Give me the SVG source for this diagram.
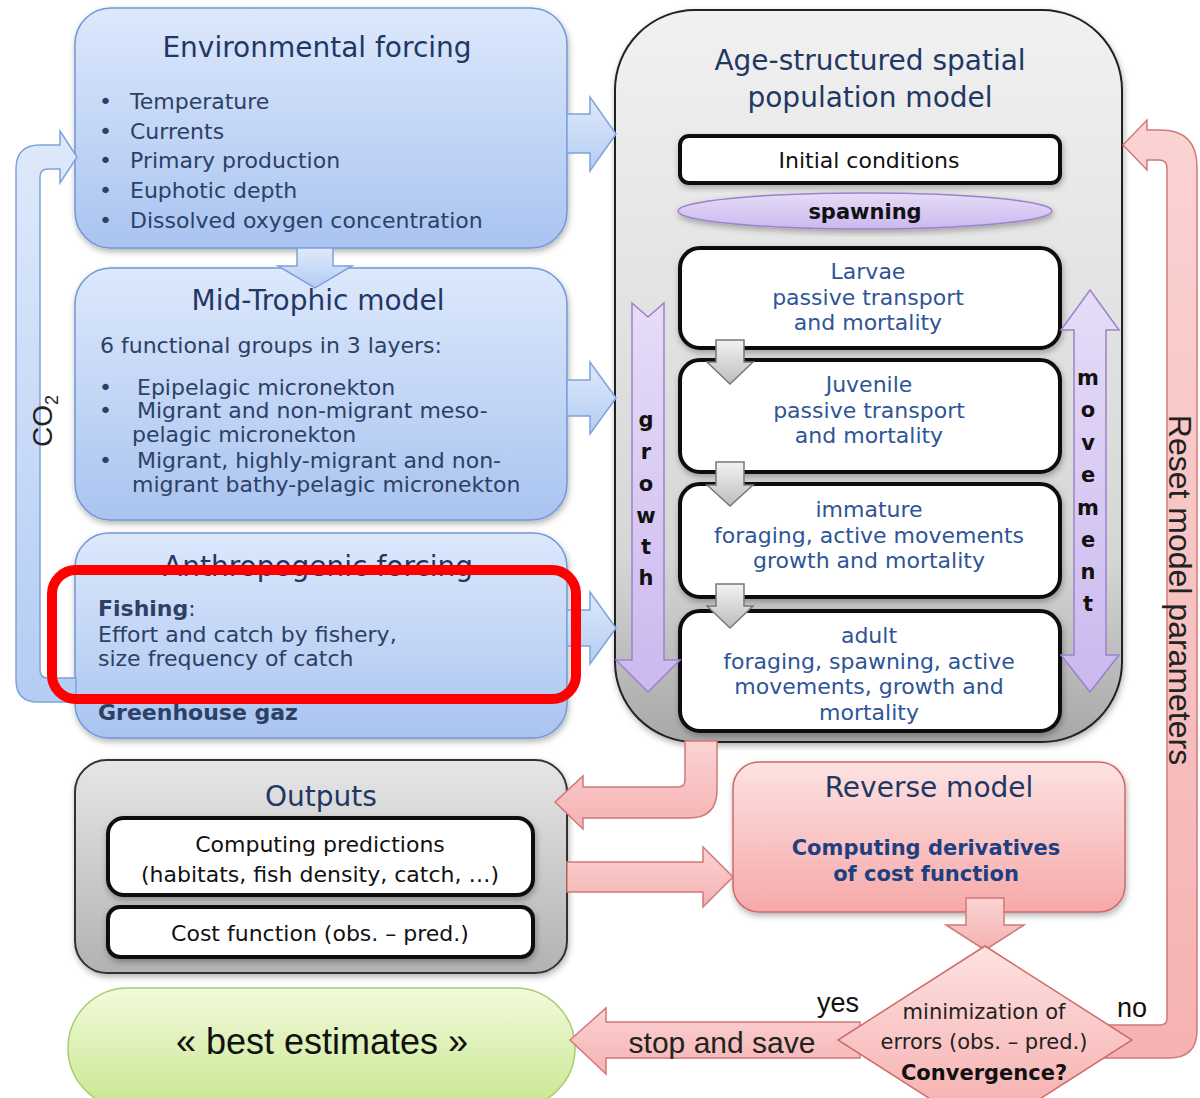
<svg xmlns="http://www.w3.org/2000/svg" width="1200" height="1098" viewBox="0 0 1200 1098">
<defs>
<linearGradient id="gBlue" x1="0" y1="0" x2="0" y2="1"><stop offset="0" stop-color="#dde8fc"/><stop offset="1" stop-color="#a9c4f0"/></linearGradient>
<linearGradient id="gBlueA" x1="0" y1="0" x2="0" y2="1"><stop offset="0" stop-color="#dfe9fb"/><stop offset="1" stop-color="#b4cdf3"/></linearGradient>
<linearGradient id="gGray" x1="0" y1="0" x2="0" y2="1"><stop offset="0" stop-color="#f1f1f1"/><stop offset="0.75" stop-color="#d6d6d6"/><stop offset="1" stop-color="#a8a8a8"/></linearGradient>
<linearGradient id="gGray2" x1="0" y1="0" x2="0" y2="1"><stop offset="0" stop-color="#e6e6e6"/><stop offset="1" stop-color="#b2b2b2"/></linearGradient>
<linearGradient id="gGrayArr" x1="0" y1="0" x2="0" y2="1"><stop offset="0" stop-color="#f2f2f2"/><stop offset="1" stop-color="#bdbdbd"/></linearGradient>
<linearGradient id="gPink" x1="0" y1="0" x2="0" y2="1"><stop offset="0" stop-color="#fde2e2"/><stop offset="1" stop-color="#f6a9a9"/></linearGradient>
<linearGradient id="gPinkArr" x1="0" y1="0" x2="0" y2="1"><stop offset="0" stop-color="#fbd3d3"/><stop offset="1" stop-color="#f5b2b2"/></linearGradient>
<linearGradient id="gLav" x1="0" y1="0" x2="0" y2="1"><stop offset="0" stop-color="#e6dcf7"/><stop offset="1" stop-color="#cbb8ef"/></linearGradient>
<linearGradient id="gGreen" x1="0" y1="0" x2="0" y2="1"><stop offset="0" stop-color="#f3fadc"/><stop offset="1" stop-color="#c7e78f"/></linearGradient>
<filter id="sh" x="-10%" y="-10%" width="120%" height="130%"><feDropShadow dx="1" dy="3" stdDeviation="3" flood-color="#000" flood-opacity="0.3"/></filter>
<style>
.c{font-family:"DejaVu Sans",sans-serif}
.ls{font-family:"Liberation Sans",Arial,sans-serif}
.ttl{font-size:28px;fill:#1f3864;text-anchor:middle}
.bd{font-size:22px;fill:#2d4066}
.st{font-size:22px;fill:#2e5597;text-anchor:middle}
.bk{font-size:22px;fill:#111;text-anchor:middle}
.lt{font-size:21px;font-weight:bold;fill:#111;text-anchor:middle}
.bbox{fill:url(#gBlue);stroke:#7098d4;stroke-width:1.5}
.wbox{fill:#fff;stroke:#111;stroke-width:4}
.barr{fill:url(#gBlueA);stroke:#7ea2da;stroke-width:1.5}
.parr{fill:url(#gPinkArr);stroke:#d27878;stroke-width:1.5}
.garr{fill:url(#gGrayArr);stroke:#777;stroke-width:1.5}
.larr{fill:url(#gLav);stroke:#9a82cc;stroke-width:1.5}
</style>
</defs>
<rect width="1200" height="1098" fill="#fff"/>

<g id="env">
<rect class="bbox" x="75" y="8" width="492" height="240" rx="36" filter="url(#sh)"/>
<text class="c ttl" x="317" y="57">Environmental forcing</text>
<g class="c bd">
<text x="99" y="109">•</text><text x="130" y="109">Temperature</text>
<text x="99" y="139">•</text><text x="130" y="139">Currents</text>
<text x="99" y="168">•</text><text x="130" y="168">Primary production</text>
<text x="99" y="198">•</text><text x="130" y="198">Euphotic depth</text>
<text x="99" y="228">•</text><text x="130" y="228">Dissolved oxygen concentration</text>
</g>
</g>

<g id="midtrophic">
<rect class="bbox" x="75" y="268" width="492" height="252" rx="36" filter="url(#sh)"/>
<text class="c ttl" x="318" y="310">Mid-Trophic model</text>
<g class="c bd">
<text x="100" y="353">6 functional groups in 3  layers:</text>
<text x="99" y="395">•</text><text x="137" y="395">Epipelagic micronekton</text>
<text x="99" y="418">•</text><text x="137" y="418">Migrant and non-migrant meso-</text>
<text x="132" y="442">pelagic micronekton</text>
<text x="99" y="468">•</text><text x="137" y="468">Migrant, highly-migrant and non-</text>
<text x="132" y="492">migrant bathy-pelagic micronekton</text>
</g>
</g>

<g id="anthropogenic">
<rect class="bbox" x="75" y="533" width="492" height="205" rx="34" filter="url(#sh)"/>
<text class="c ttl" x="318" y="576">Anthropogenic forcing</text>
<g class="c bd">
<text x="98" y="616" font-weight="bold">Fishing<tspan font-weight="normal">:</tspan></text>
<text x="98" y="642">Effort and catch by fishery,</text>
<text x="98" y="666">size frequency of catch</text>
<text x="98" y="720" font-weight="bold">Greenhouse gaz</text>
</g>
</g>

<g id="population">
<rect x="615" y="10" width="507" height="732" rx="80" fill="url(#gGray)" stroke="#222" stroke-width="2" filter="url(#sh)"/>
<text class="c ttl" x="870" y="70" fill="#1f497d">Age-structured spatial</text>
<text class="c ttl" x="870" y="107">population model</text>
</g>

<g id="initial-conditions">
<rect class="wbox" x="680" y="136" width="380" height="47" rx="9" filter="url(#sh)"/>
<text class="c bk" x="869" y="168">Initial conditions</text>
</g>

<g id="spawning">
<ellipse cx="865" cy="211" rx="187" ry="18" fill="url(#gLav)" stroke="#9a82cc" stroke-width="1.5" filter="url(#sh)"/>
<text class="c lt" x="865" y="219">spawning</text>
</g>

<g id="larvae">
<rect class="wbox" x="680" y="248" width="380" height="100" rx="20" filter="url(#sh)"/>
<g class="c st"><text x="868" y="279">Larvae</text><text x="868" y="305">passive transport</text><text x="868" y="330">and mortality</text></g>
</g>

<g id="juvenile">
<rect class="wbox" x="680" y="360" width="380" height="112" rx="20" filter="url(#sh)"/>
<g class="c st"><text x="869" y="392">Juvenile</text><text x="869" y="418">passive transport</text><text x="869" y="443">and mortality</text></g>
</g>

<g id="immature">
<rect class="wbox" x="680" y="484" width="380" height="113" rx="20" filter="url(#sh)"/>
<g class="c st"><text x="869" y="517">immature</text><text x="869" y="543">foraging, active movements</text><text x="869" y="568">growth and mortality</text></g>
</g>

<g id="adult">
<rect class="wbox" x="680" y="611" width="380" height="120" rx="20" filter="url(#sh)"/>
<g class="c st"><text x="869" y="643">adult</text><text x="869" y="669">foraging, spawning, active</text><text x="869" y="694">movements, growth and</text><text x="869" y="720">mortality</text></g>
</g>

<g id="outputs">
<rect x="75" y="760" width="492" height="213" rx="32" fill="url(#gGray2)" stroke="#333" stroke-width="2" filter="url(#sh)"/>
<text class="c ttl" x="321" y="806">Outputs</text>
</g>

<g id="predictions">
<rect class="wbox" x="108" y="818" width="425" height="77" rx="16" filter="url(#sh)"/>
<text class="c bk" x="320" y="852">Computing predictions</text>
<text class="c bk" x="320" y="882">(habitats, fish density, catch, …)</text>
</g>

<g id="cost-function">
<rect class="wbox" x="108" y="907" width="425" height="50" rx="12" filter="url(#sh)"/>
<text class="c bk" x="320" y="941">Cost function (obs. – pred.)</text>
</g>

<g id="reverse-model">
<rect x="733" y="762" width="392" height="150" rx="26" fill="url(#gPink)" stroke="#d06a6a" stroke-width="1.5" filter="url(#sh)"/>
<text class="c ttl" x="929" y="797">Reverse model</text>
<text class="c" x="926" y="855" font-size="21" font-weight="bold" fill="#1f3f80" text-anchor="middle">Computing derivatives</text>
<text class="c" x="926" y="881" font-size="21" font-weight="bold" fill="#1f3f80" text-anchor="middle">of cost function</text>
</g>

<g id="best-estimates">
<rect x="68" y="988" width="507" height="120" rx="60" fill="url(#gGreen)" stroke="#a9cc6f" stroke-width="1.5"/>
<text class="ls" x="322" y="1054" font-size="36" fill="#111" text-anchor="middle">« best estimates »</text>
</g>

<g id="connectors">
<path class="barr" d="M 77 157 L 60 131 L 60 145 L 40 145 Q 16 145 16 169 L 16 680 Q 16 702 38 702 L 76 702 L 76 678 L 48 678 Q 40 678 40 670 L 40 177 Q 40 169 48 169 L 60 169 L 60 183 Z"/>
<text class="ls" transform="translate(52,447) rotate(-90)" font-size="28" fill="#222">CO<tspan font-size="18" dy="6">2</tspan></text>
<path class="barr" d="M 567 114 L 590 114 L 590 97 L 616 134 L 590 171 L 590 153 L 567 153 Z"/>
<path class="barr" d="M 567 380 L 590 380 L 590 362 L 616 398 L 590 434 L 590 416 L 567 416 Z"/>
<path class="barr" d="M 567 610 L 590 610 L 590 592 L 616 628 L 590 664 L 590 646 L 567 646 Z"/>
<path class="barr" d="M 297 248 L 333 248 L 333 266 L 352 266 L 315 288 L 278 266 L 297 266 Z"/>
<path class="garr" d="M 716 340 L 744 340 L 744 362 L 753 362 L 730 384 L 707 362 L 716 362 Z"/>
<path class="garr" d="M 716 462 L 744 462 L 744 485 L 753 485 L 730 506 L 707 485 L 716 485 Z"/>
<path class="garr" d="M 716 584 L 744 584 L 744 606 L 753 606 L 730 628 L 707 606 L 716 606 Z"/>
<path class="larr" d="M 632 303 L 648 317 L 664 303 L 664 660 L 680 660 L 648 692 L 616 660 L 632 660 Z"/>
<g class="c lt"><text x="646" y="427">g</text><text x="646" y="459">r</text><text x="646" y="491">o</text><text x="646" y="523">w</text><text x="646" y="554">t</text><text x="646" y="585">h</text></g>
<path class="larr" d="M 1090 290 L 1119 330 L 1106 330 L 1106 655 L 1119 655 L 1090 692 L 1061 655 L 1074 655 L 1074 330 L 1061 330 Z"/>
<g class="c lt"><text x="1088" y="385">m</text><text x="1088" y="417">o</text><text x="1088" y="450">v</text><text x="1088" y="482">e</text><text x="1088" y="515">m</text><text x="1088" y="547">e</text><text x="1088" y="579">n</text><text x="1088" y="611">t</text></g>
<path class="parr" d="M 685 741 L 717 741 L 717 790 Q 717 818 689 818 L 583 818 L 583 829 L 555 802 L 583 776 L 583 787 L 678 787 Q 685 787 685 780 Z"/>
<path class="parr" d="M 567 862 L 703 862 L 703 847 L 733 877 L 703 907 L 703 892 L 567 892 Z"/>
<path class="parr" d="M 966 898 L 1004 898 L 1004 925 L 1024 925 L 985 950 L 946 925 L 966 925 Z"/>
<path class="parr" d="M 1123 145 L 1147 120 L 1147 130 L 1160 130 Q 1197 130 1197 167 L 1197 1030 Q 1197 1058 1169 1058 L 1100 1058 L 1100 1025 L 1160 1025 Q 1167 1025 1167 1018 L 1167 168 Q 1167 160 1159 160 L 1147 160 L 1147 170 Z"/>
<text class="ls" transform="translate(1169,590) rotate(90)" font-size="32" fill="#222" text-anchor="middle">Reset model parameters</text>
<path class="parr" d="M 570 1040 L 606 1008 L 606 1022 L 860 1022 L 860 1058 L 606 1058 L 606 1074 Z"/>
<text class="ls" x="722" y="1053" font-size="30" fill="#222" text-anchor="middle">stop and save</text>
<text class="ls" x="838" y="1012" font-size="27" fill="#111" text-anchor="middle">yes</text>
<text class="ls" x="1132" y="1017" font-size="27" fill="#111" text-anchor="middle">no</text>
</g>

<g id="convergence">
<polygon points="985,946 1132,1040 985,1134 838,1040" fill="url(#gPink)" stroke="#d06a6a" stroke-width="1.5"/>
<text class="c" x="984" y="1019" font-size="21" fill="#222" text-anchor="middle">minimization of</text>
<text class="c" x="984" y="1049" font-size="21" fill="#222" text-anchor="middle">errors (obs. – pred.)</text>
<text class="c" x="984" y="1080" font-size="21" font-weight="bold" fill="#111" text-anchor="middle">Convergence?</text>
</g>

<g id="highlight">
<rect x="52" y="570" width="524" height="129" rx="24" fill="none" stroke="#ff0000" stroke-width="10"/>
</g>
</svg>
